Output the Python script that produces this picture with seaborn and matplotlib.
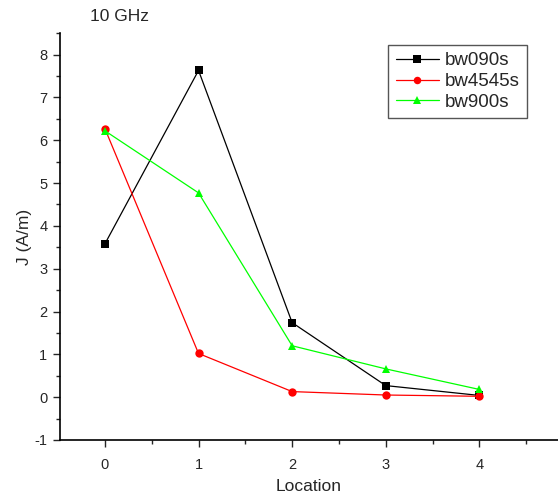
import numpy as np
import pandas as pd
import matplotlib
matplotlib.use("Agg")
import matplotlib.pyplot as plt
import seaborn as sns
from matplotlib.ticker import MultipleLocator

# data
locations = [0, 1, 2, 3, 4]
bw090s = [3.58, 7.63, 1.74, 0.27, 0.04]
bw4545s = [6.27, 1.02, 0.13, 0.05, 0.02]
bw900s = [6.22, 4.77, 1.20, 0.66, 0.18]
series_names = ["bw090s", "bw4545s", "bw900s"]

df = pd.DataFrame({
    "Location": locations * 3,
    "J": bw090s + bw4545s + bw900s,
    "serie": np.repeat(series_names, len(locations)),
})

sns.set_style("white")
plt.rcParams["font.family"] = ["Liberation Sans", "DejaVu Sans"]
plt.rcParams["axes.unicode_minus"] = False

colores = {"bw090s": "#000000", "bw4545s": "#ff0000", "bw900s": "#00ff00"}
marcadores = {"bw090s": "s", "bw4545s": "o", "bw900s": "^"}

fig = plt.figure(figsize=(5.58, 5.01), dpi=100)
ax = fig.add_axes([0.1075, 0.1218, 0.8925, 0.812])

sns.lineplot(data=df, x="Location", y="J", hue="serie", style="serie",
             palette=colores, markers=marcadores, dashes=False,
             linewidth=0.9, markersize=6, markeredgewidth=0, ax=ax)

ax.set_xlim(-0.48, 4.84)
ax.set_ylim(-1, 8.5)
ax.xaxis.set_major_locator(MultipleLocator(1))
ax.xaxis.set_minor_locator(MultipleLocator(0.5))
ax.yaxis.set_major_locator(MultipleLocator(1))
ax.yaxis.set_minor_locator(MultipleLocator(0.5))
ax.tick_params(which="major", direction="out", length=5, width=1,
               labelsize=10.5, bottom=True, left=True, pad=4)
ax.tick_params(which="minor", direction="out", length=3, width=1,
               bottom=True, left=True)
ax.tick_params(axis="x", pad=8)
ax.spines["top"].set_visible(False)
ax.spines["right"].set_visible(False)
for s in ["left", "bottom"]:
    ax.spines[s].set_linewidth(1.2)
    ax.spines[s].set_color("black")

ax.set_xlabel("Location", fontsize=12.5, labelpad=5)
ax.set_ylabel("J (A/m)", fontsize=12.5, labelpad=2)
ax.set_title("10 GHz", fontsize=12.5, loc="left", x=0.06, y=1.0, pad=9)

leg = ax.legend(loc="upper left", bbox_to_anchor=(0.64, 0.995), fontsize=13.5,
                fancybox=False, framealpha=1, handlelength=2.3,
                borderpad=0.4, labelspacing=0.2, handletextpad=0.3,
                markerscale=0.9)
leg.get_frame().set_edgecolor("#555555")
leg.get_frame().set_linewidth(1.0)

fig.savefig("out.png", dpi=100, facecolor="white")
